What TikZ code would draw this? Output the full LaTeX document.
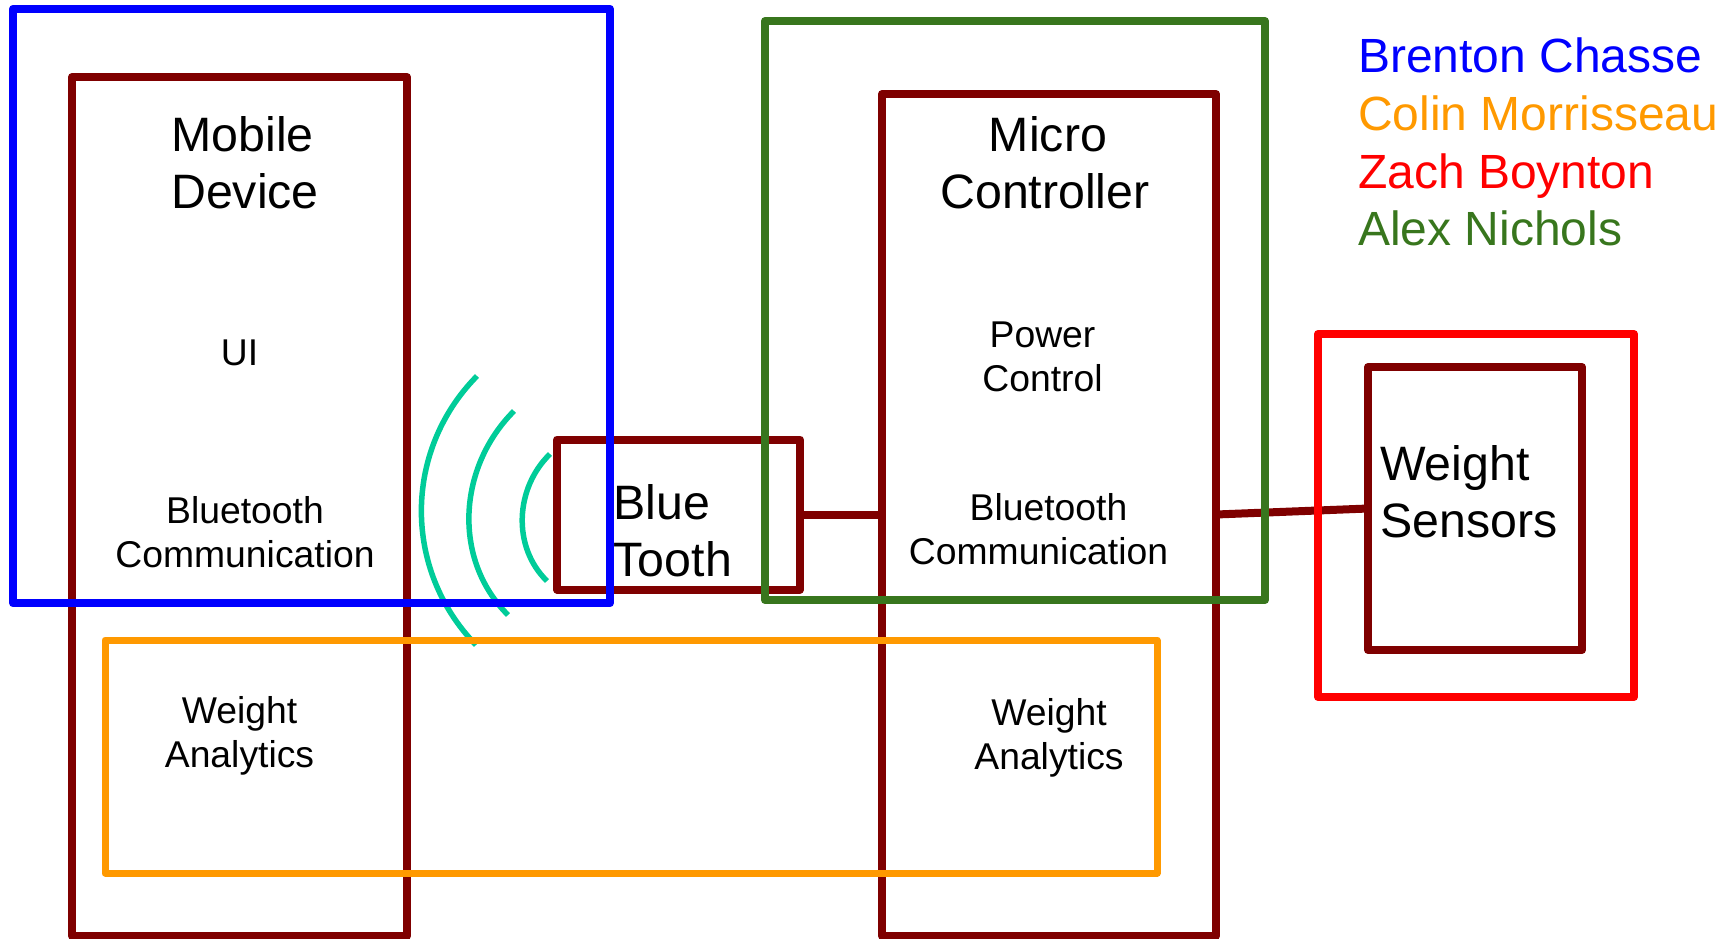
\documentclass[tikz,border=0pt]{standalone}
\usepackage{fontspec}
\setmainfont{Liberation Sans}
\definecolor{cblue}{HTML}{0000FF}
\definecolor{corange}{HTML}{FF9900}
\definecolor{cred}{HTML}{FF0000}
\definecolor{cgreen}{HTML}{38761D}
\definecolor{cdark}{HTML}{7F0000}
\definecolor{cteal}{HTML}{00CC99}
\tikzset{
  boxn/.style={draw, rectangle, inner sep=0pt, outer sep=0pt, line width=8pt, line join=round, fill=none},
  wave/.style={draw=cteal, line width=5.5pt},
  link/.style={draw=cdark, line width=8pt},
  bigtext/.style={inner sep=0pt, font=\fontsize{48.3}{57}\selectfont, align=center},
  smalltext/.style={inner sep=0pt, font=\fontsize{37.3}{44}\selectfont, align=center},
  legend/.style={inner sep=0pt, anchor=base west, font=\fontsize{48}{57}\selectfont},
}
\begin{document}
\begin{tikzpicture}[x=1pt,y=-1pt]
\useasboundingbox (0,0) rectangle (1735,938);
\clip (0,0) rectangle (1735,938);
% dark red boxes
\node[boxn,draw=cdark,minimum width=335pt,minimum height=859pt] (mobile) at (239.5,506.5) {};
\node[boxn,draw=cdark,minimum width=334pt,minimum height=842pt] (micro) at (1049,515) {};
\node[boxn,draw=cdark,minimum width=243pt,minimum height=150pt] (bt) at (678.5,514.5) {};
\node[boxn,draw=cdark,minimum width=214pt,minimum height=283pt] (sensor) at (1475,508.5) {};
\draw[link] (bt.east) -- (bt.east -| micro.west);
\draw[link] (bt.east -| micro.east) -- (sensor.west);
% waves
\path[wave] (477,376) .. controls (403,451) and (403,570) .. (476,645);
\path[wave] (514,411) .. controls (458,467) and (452,559) .. (508,615);
\path[wave] (550,454) .. controls (515,488) and (512,547) .. (547,581);
% person boxes
\node[boxn,draw=cblue,minimum width=597pt,minimum height=594.5pt] (bluebox) at (311.5,306) {};
\node[boxn,draw=cgreen,minimum width=500pt,minimum height=579pt] (greenbox) at (1015,310.5) {};
\node[boxn,draw=corange,line width=7pt,minimum width=1052pt,minimum height=233pt] (orangebox) at (631,756.5) {};
\node[boxn,draw=cred,minimum width=316pt,minimum height=363pt] (redbox) at (1476,515.5) {};
% texts
\node[bigtext] (t1) at (245,163) {Mobile\hspace*{5pt}\\Device};
\node[bigtext] (t2) at (1045,163) {\hspace*{6pt}Micro\\Controller};
\node[smalltext] (t3) at (239.5,352.5) {UI};
\node[smalltext] (t4) at (1042.5,357) {Power\\Control};
\node[smalltext] (t5) at (245,532) {Bluetooth\\Communication};
\node[smalltext] (t6) at (1038.5,529) {\hspace*{20pt}Bluetooth\\Communication};
\node[smalltext] (t7) at (239.5,735.5) {Weight\\Analytics};
\node[smalltext] (t8) at (1049,738) {Weight\\Analytics};
\node[bigtext,align=left,anchor=west] (t9) at (613.5,531) {Blue\\T{}ooth};
\node[bigtext,align=left,anchor=west] (t10) at (1380,492) {Weight\\Sensors};
% legend
\node[legend,text=cblue] (l1) at (1358,72) {Brenton Chasse};
\node[legend,text=corange] (l2) at (1358,130.5) {Colin Morrisseau};
\node[legend,text=cred] (l3) at (1358,188.5) {Zach Boynton};
\node[legend,text=cgreen] (l4) at (1358,245) {Alex Nichols};
\end{tikzpicture}
\end{document}
